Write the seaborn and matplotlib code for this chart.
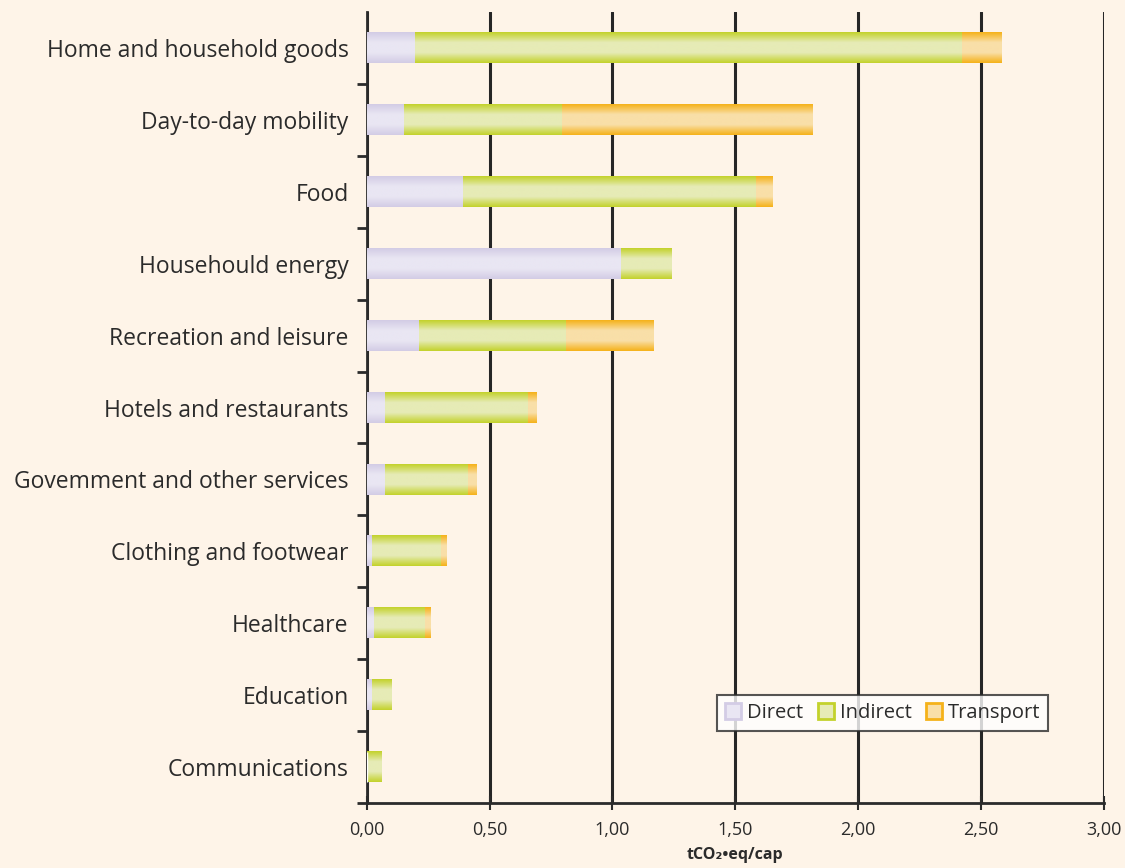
import numpy as np
import pandas as pd
import matplotlib
matplotlib.use("Agg")
import matplotlib.pyplot as plt
import seaborn as sns
from matplotlib.colors import LinearSegmentedColormap
from matplotlib.patches import Patch

# Data (tCO2-eq per capita)
categories = ["Home and household goods", "Day-to-day mobility", "Food",
              "Househould energy", "Recreation and leisure", "Hotels and restaurants",
              "Govemment and other services", "Clothing and footwear", "Healthcare",
              "Education", "Communications"]
direct = [0.195, 0.147, 0.39, 1.034, 0.21, 0.07, 0.07, 0.02, 0.025, 0.02, 0.0]
indirect = [2.225, 0.643, 1.19, 0.206, 0.60, 0.585, 0.34, 0.28, 0.21, 0.08, 0.06]
transport = [0.165, 1.025, 0.07, 0.0, 0.355, 0.035, 0.035, 0.025, 0.025, 0.0, 0.0]
xticks = [0.0, 0.5, 1.0, 1.5, 2.0, 2.5, 3.0]

df = pd.DataFrame({"category": categories, "Direct": direct,
                   "Indirect": indirect, "Transport": transport})
df["lvl_direct"] = df["Direct"]
df["lvl_indirect"] = df["Direct"] + df["Indirect"]
df["lvl_transport"] = df["lvl_indirect"] + df["Transport"]

bg = "#FEF4E8"
txt = "#2b2b2b"
# edge, centre colours for the gradient fill
grad = {
    "Transport": ("#F5B21A", "#F9DFA8"),
    "Indirect": ("#C3D22C", "#E6EBB6"),
    "Direct": ("#D3CCE5", "#E9E6F3"),
}

sns.set_style("white")
plt.rcParams["font.family"] = ["Open Sans", "DejaVu Sans"]

fig = plt.figure(figsize=(11.25, 8.68), dpi=100, facecolor=bg)
ax = fig.add_axes([0.326, 0.075, 0.655, 0.911])
ax.set_facecolor(bg)

layers = [("Transport", "lvl_transport", 2), ("Indirect", "lvl_indirect", 3),
          ("Direct", "lvl_direct", 4)]
images = []
for name, col, z in layers:
    n_before = len(ax.patches)
    sns.barplot(data=df, x=col, y="category", orient="h", color=grad[name][0],
                width=0.42, ax=ax, zorder=z)
    edge, mid = grad[name]
    cmap = LinearSegmentedColormap.from_list(name, [edge, mid, mid, edge])
    g = np.linspace(0, 1, 64).reshape(-1, 1)
    for p in ax.patches[n_before:]:
        w = p.get_width()
        if w <= 0:
            continue
        x0, y0, h = p.get_x(), p.get_y(), p.get_height()
        p.set_alpha(0)
        images.append((g, cmap, [x0, x0 + w, y0 + h, y0], z))

for g, cmap, ext, z in images:
    ax.imshow(g, cmap=cmap, extent=ext, aspect="auto", zorder=z,
              interpolation="bilinear")

ax.set_xlim(0, 3.0)
ax.set_ylim(len(categories) - 0.5, -0.5)
ax.set_xticks(xticks)
ax.set_xticklabels([f"{v:.2f}".replace(".", ",") for v in xticks])
ax.set_yticks(range(len(categories)))
ax.set_yticklabels(categories)
ax.set_yticks(np.arange(len(categories)) + 0.5, minor=True)
ax.tick_params(axis="y", which="major", left=True, length=0, pad=13,
               labelsize=16.5, labelcolor=txt)
ax.tick_params(axis="y", which="minor", left=True, length=7, width=2,
               color=txt, direction="out")
ax.tick_params(axis="x", bottom=True, length=10, width=1.5, color=txt,
               direction="inout", labelsize=13, labelcolor=txt, pad=8)

ax.grid(axis="x", color="#262626", linewidth=2.2, zorder=1)
ax.set_axisbelow(True)
for s in ["top", "right"]:
    ax.spines[s].set_visible(False)
for s in ["left", "bottom"]:
    ax.spines[s].set_color(txt)
    ax.spines[s].set_linewidth(2)

ax.set_ylabel("")
ax.set_xlabel("tCO₂•eq/cap", fontsize=11.5, fontweight="bold", color=txt, labelpad=6)

handles = [Patch(facecolor=grad[k][1], edgecolor=grad[k][0], linewidth=2, label=k)
           for k in ["Direct", "Indirect", "Transport"]]
leg = ax.legend(handles=handles, loc="lower right", bbox_to_anchor=(0.925, 0.091),
                borderaxespad=0, ncol=3, frameon=True, fancybox=False, fontsize=14.5,
                handlelength=0.8, handleheight=0.8, handletextpad=0.3,
                columnspacing=0.7, borderpad=0.4)
leg.get_frame().set_edgecolor(txt)
leg.get_frame().set_linewidth(1.5)
leg.get_frame().set_facecolor("white")
leg.set_zorder(10)
for t in leg.get_texts():
    t.set_color(txt)

fig.savefig("out.png", dpi=100, facecolor=bg)
